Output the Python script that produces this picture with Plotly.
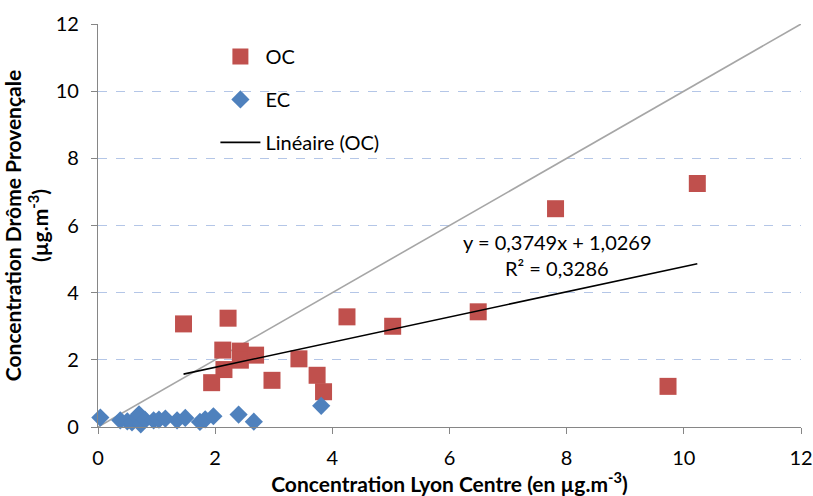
import plotly.graph_objects as go

# ---- data ----
oc_x = [1.46, 2.22, 2.13, 2.43, 2.43, 2.69, 2.15, 1.94, 2.97, 3.43, 3.74, 3.85, 4.25, 5.03, 6.49, 7.81, 10.23, 9.73]
oc_y = [3.07, 3.24, 2.29, 2.26, 1.99, 2.14, 1.71, 1.32, 1.39, 2.03, 1.54, 1.05, 3.28, 3.00, 3.43, 6.50, 7.25, 1.21]

ec_x = [0.04, 0.38, 0.50, 0.58, 0.67, 0.70, 0.73, 0.80, 0.95, 1.04, 1.15, 1.35, 1.49, 1.74, 1.83, 1.97, 2.40, 2.66, 3.81]
ec_y = [0.28, 0.20, 0.17, 0.14, 0.27, 0.38, 0.08, 0.22, 0.20, 0.22, 0.25, 0.20, 0.27, 0.15, 0.23, 0.32, 0.37, 0.16, 0.63]

trend_slope = 0.3749
trend_intercept = 1.0269
trend_r2 = 0.3286

ref_line_x = [0, 12]
ref_line_y = [0, 12]

tick_vals = [0, 2, 4, 6, 8, 10, 12]
tick_text = ["0", "2", "4", "6", "8", "10", "12"]

# ---- derived ----
trend_x = [min(oc_x), max(oc_x)]
trend_y = [trend_slope * v + trend_intercept for v in trend_x]

def fr(v, d):
    return f"{v:.{d}f}".replace(".", ",")

eq_text = f"y = {fr(trend_slope, 4)}x + {fr(trend_intercept, 4)}"
r2_text = f"R² = {fr(trend_r2, 4)}"

FONT = "Lato, Carlito, 'Open Sans', sans-serif"
FS = 20
FT = 21
AXIS_GREY = "#868686"

fig = go.Figure()

fig.add_trace(go.Scatter(
    x=ref_line_x, y=ref_line_y, mode="lines",
    line=dict(color="#a6a6a6", width=1.6),
    showlegend=False, hoverinfo="skip",
))
fig.add_trace(go.Scatter(
    x=oc_x, y=oc_y, mode="markers", name="OC", legendgroup="oc",
    marker=dict(symbol="square", size=17, color="#c0504d",
                line=dict(width=0)),
    cliponaxis=False,
))
fig.add_trace(go.Scatter(
    x=ec_x, y=ec_y, mode="markers", name="EC", legendgroup="ec",
    marker=dict(symbol="diamond", size=14, color="#4f81bd",
                line=dict(width=0)),
    cliponaxis=False,
))
fig.add_trace(go.Scatter(
    x=trend_x, y=trend_y, mode="lines", name="Linéaire (OC)", legendgroup="lin",
    line=dict(color="#000000", width=1.6),
))

fig.add_annotation(x=7.84, y=5.50, text=eq_text, showarrow=False,
                   font=dict(family=FONT, size=FS, color="#000"), xanchor="center", yanchor="middle")
fig.add_annotation(x=7.84, y=4.72, text=r2_text, showarrow=False,
                   font=dict(family=FONT, size=FS, color="#000"), xanchor="center", yanchor="middle")

fig.update_layout(
    width=813, height=496,
    margin=dict(l=98, r=12, t=24, b=69),
    paper_bgcolor="white", plot_bgcolor="white",
    font=dict(family=FONT, size=FS, color="#000"),
    showlegend=True,
    legend=dict(x=0.167, y=0.968, xanchor="left", yanchor="top",
                bgcolor="rgba(0,0,0,0)", font=dict(family=FONT, size=FS),
                itemwidth=40,
                traceorder="grouped", tracegroupgap=14),
    xaxis=dict(
        range=[0, 12], tickvals=tick_vals, ticktext=tick_text,
        showline=True, linecolor=AXIS_GREY, linewidth=1.3,
        ticks="outside", ticklen=6, tickcolor=AXIS_GREY, tickwidth=1.3,
        showgrid=False, zeroline=False, automargin=False,
        title=dict(text="<b>Concentration Lyon Centre (en µg.m<sup>-3</sup>)</b>",
                   font=dict(family=FONT, size=FT), standoff=2),
        tickfont=dict(family=FONT, size=FS),
        ticklabelstandoff=7,
    ),
    yaxis=dict(
        range=[0, 12], tickvals=tick_vals, ticktext=tick_text,
        showline=True, linecolor=AXIS_GREY, linewidth=1.3,
        ticks="outside", ticklen=6, tickcolor=AXIS_GREY, tickwidth=1.3,
        showgrid=True, gridcolor="#b4c6e7", griddash="dash", gridwidth=1,
        zeroline=False, automargin=False,
        title=dict(text="<b>Concentration Drôme Provençale<br>(µg.m<sup>-3</sup>)</b>",
                   font=dict(family=FONT, size=FT), standoff=4),
        tickfont=dict(family=FONT, size=FS),
        ticklabelstandoff=8,
    ),
)

fig.write_html("out.html")
